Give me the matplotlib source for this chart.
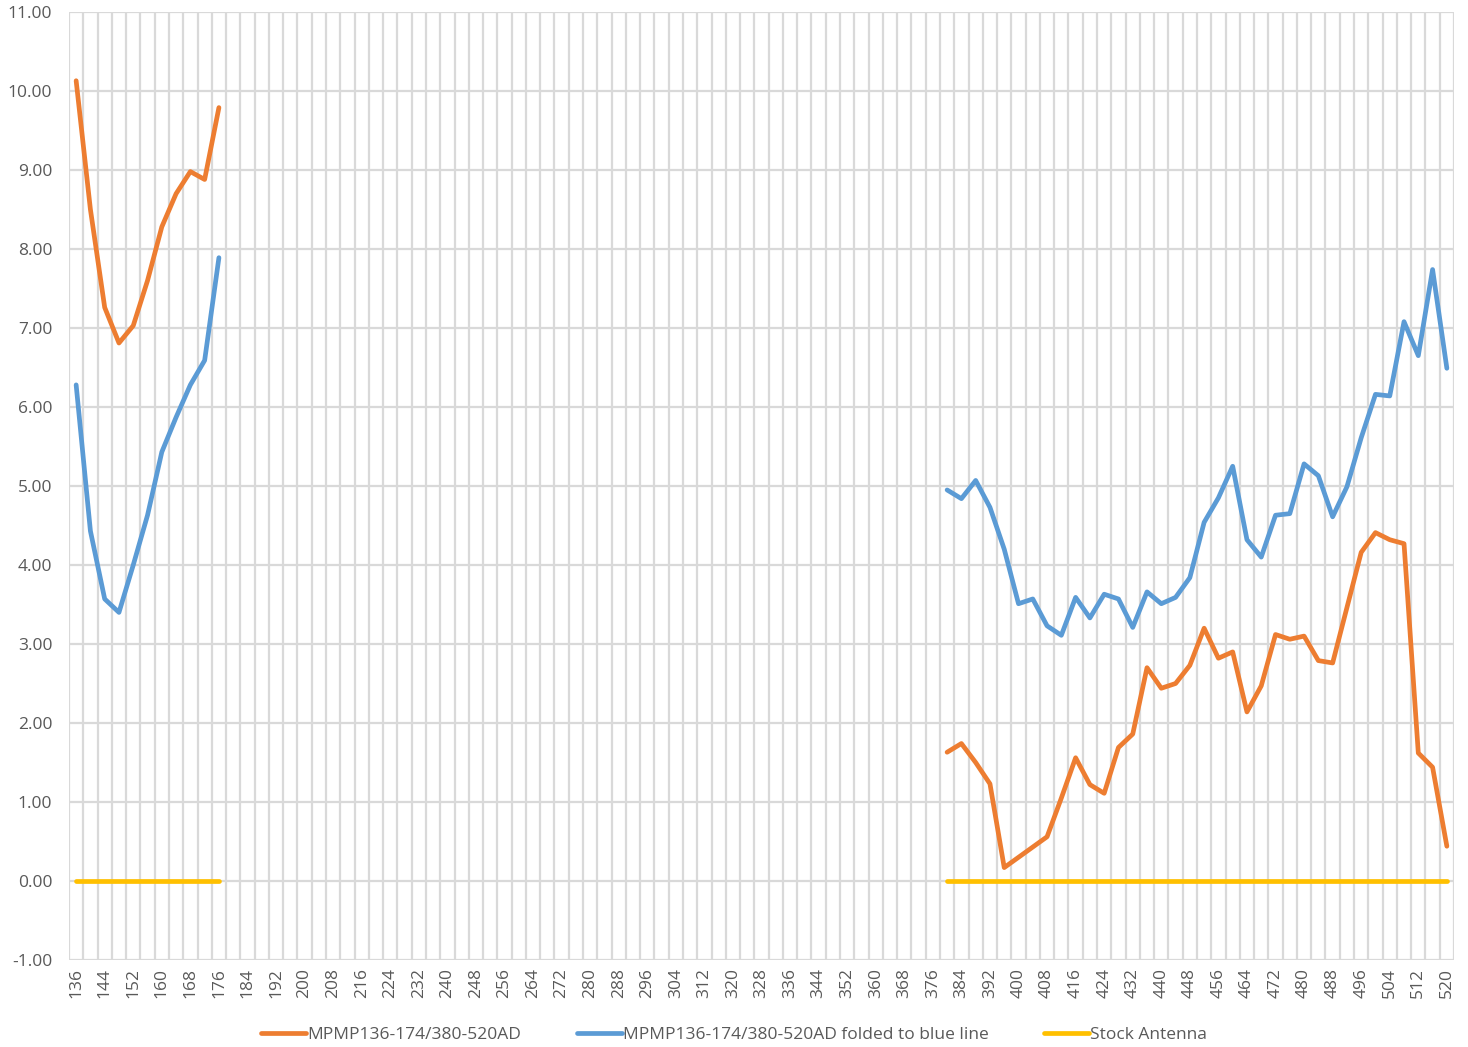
import matplotlib
matplotlib.use("Agg")
import matplotlib.pyplot as plt
import numpy as np

# frequencies (MHz) measured on the two bands
freq_low = [136, 140, 144, 148, 152, 156, 160, 164, 168, 172, 176]
freq_high = list(range(380, 521, 4))

mpmp_low = [10.13, 8.50, 7.26, 6.81, 7.03, 7.60, 8.28, 8.70, 8.98, 8.88, 9.79]
mpmp_high = [1.63, 1.74, 1.50, 1.23, 0.17, 0.30, 0.43, 0.56, 1.05, 1.56,
             1.22, 1.11, 1.69, 1.86, 2.70, 2.44, 2.50, 2.73, 3.20, 2.82,
             2.90, 2.14, 2.47, 3.12, 3.06, 3.10, 2.79, 2.76, 3.46, 4.16,
             4.41, 4.32, 4.27, 1.62, 1.44, 0.44]

folded_low = [6.28, 4.43, 3.57, 3.40, 4.00, 4.63, 5.43, 5.87, 6.28, 6.59, 7.89]
folded_high = [4.95, 4.84, 5.07, 4.73, 4.20, 3.51, 3.57, 3.23, 3.11, 3.59,
               3.33, 3.63, 3.57, 3.21, 3.66, 3.51, 3.59, 3.84, 4.54, 4.85,
               5.25, 4.32, 4.10, 4.63, 4.65, 5.28, 5.13, 4.61, 4.99, 5.61,
               6.16, 6.14, 7.08, 6.65, 7.74, 6.49]

stock_low = [0.0] * len(freq_low)
stock_high = [0.0] * len(freq_high)

labels = ["MPMP136-174/380-520AD",
          "MPMP136-174/380-520AD folded to blue line",
          "Stock Antenna"]
colors = ["#ED7D31", "#5B9BD5", "#FFC000"]

plt.rcParams['font.family'] = ['Open Sans', 'DejaVu Sans']

fig = plt.figure(figsize=(14.68, 10.47), dpi=100)
ax = fig.add_axes([69 / 1468, 1 - 960 / 1047, 1385 / 1468, 948 / 1047])

series = [(mpmp_low, mpmp_high), (folded_low, folded_high), (stock_low, stock_high)]
for (lo, hi), lab, col in zip(series, labels, colors):
    ax.plot(freq_low, lo, color=col, lw=3.4, solid_capstyle='round', label=lab)
    ax.plot(freq_high, hi, color=col, lw=3.4, solid_capstyle='round')

ax.set_xlim(134, 522)
ax.set_ylim(-1, 11)
ax.set_yticks(np.arange(-1, 12, 1))
ax.set_yticklabels([f"{v:.2f}" for v in np.arange(-1, 12, 1)])
ax.set_xticks(range(136, 521, 8))
ax.set_xticks(range(134, 523, 4), minor=True)
ax.tick_params(axis='x', labelrotation=90, pad=6)
ax.tick_params(axis='y', pad=12)
ax.tick_params(which='both', length=0, labelsize=12.5, colors='#595959')

ax.grid(True, axis='y', color='#D9D9D9', lw=1.6)
ax.grid(True, axis='x', which='minor', color='#D9D9D9', lw=1.6)
ax.set_axisbelow(True)
for s in ax.spines.values():
    s.set_visible(False)

leg = fig.legend(loc='center', bbox_to_anchor=(0.5, 1 - 1035 / 1047), ncol=3,
                 frameon=False, fontsize=12.5, handlelength=2.6, handletextpad=0.05,
                 columnspacing=3.2)
for t in leg.get_texts():
    t.set_color('#595959')

fig.savefig("out.png", dpi=100)
